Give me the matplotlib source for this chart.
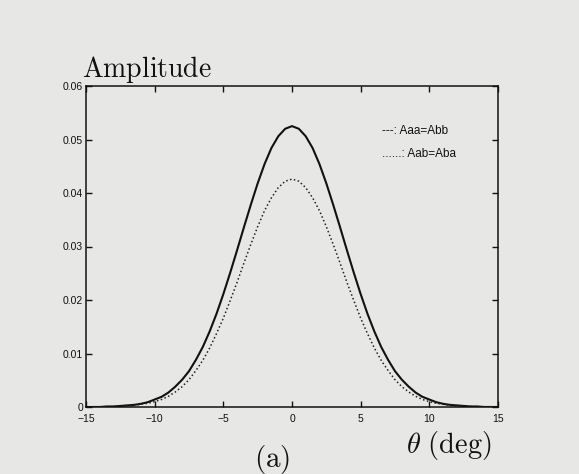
import numpy as np
import matplotlib
matplotlib.use('Agg')
import matplotlib.pyplot as plt

# values (half degree steps, -15 .. 15)
theta = np.arange(-15, 15.5, 0.5)
half_aa = [0.0525, 0.0520, 0.0506, 0.0484, 0.0454, 0.0418, 0.0378, 0.0336,
           0.0293, 0.0251, 0.0211, 0.0174, 0.0141, 0.0112, 0.0088, 0.0067,
           0.0051, 0.0038, 0.0027, 0.0019, 0.0014, 0.0009, 0.0006, 0.0004,
           0.0003, 0.0002, 0.0001, 0.0001, 0.0000, 0.0000, 0.0000]
half_ab = [0.0426, 0.0422, 0.0410, 0.0391, 0.0367, 0.0337, 0.0304, 0.0269,
           0.0233, 0.0199, 0.0166, 0.0137, 0.0110, 0.0087, 0.0068, 0.0051,
           0.0038, 0.0028, 0.0020, 0.0014, 0.0010, 0.0007, 0.0005, 0.0003,
           0.0002, 0.0001, 0.0001, 0.0000, 0.0000, 0.0000, 0.0000]
# curves are symmetric about 0 in the figure
amp_aa = half_aa[:0:-1] + half_aa
amp_ab = half_ab[:0:-1] + half_ab
x_ticks = [-15, -10, -5, 0, 5, 10, 15]
y_ticks = [0, 0.01, 0.02, 0.03, 0.04, 0.05, 0.06]
legend_lines = ['---: Aaa=Abb', '......: Aab=Aba']

plt.rcParams['mathtext.fontset'] = 'cm'
plt.rcParams['font.family'] = 'Liberation Sans'

bg = '#e7e7e5'
fig = plt.figure(figsize=(5.79, 4.74), dpi=100, facecolor=bg)
ax = fig.add_axes([86 / 579, 1 - 407 / 474, 412 / 579, 321 / 474])
ax.set_facecolor(bg)

ax.plot(theta, amp_aa, color='#111111', lw=1.5, solid_joinstyle='round')
ax.plot(theta, amp_ab, color='#222222', lw=1.1, linestyle=(0, (1, 1.6)))

ax.set_xlim(-15, 15)
ax.set_ylim(0, 0.06)
ax.set_xticks(x_ticks)
ax.set_yticks(y_ticks)
ax.set_xticklabels([str(t).replace('-', '\u2212') for t in x_ticks])
ax.set_yticklabels(['0'] + ['%.2f' % v for v in y_ticks[1:]])
ax.tick_params(direction='in', top=True, right=True, length=4, width=1,
               labelsize=7.5, colors='#111111', pad=2)
ax.tick_params(axis='x', pad=5)
for s in ax.spines.values():
    s.set_linewidth(1.1)
    s.set_color('#111111')

ax.text(0.718, 0.86, legend_lines[0], transform=ax.transAxes,
        fontsize=8.5, color='#111111', va='center')
ax.text(0.718, 0.788, legend_lines[1], transform=ax.transAxes,
        fontsize=8.5, color='#111111', va='center')

fig.text(82 / 579, 1 - 77 / 474, r'$\mathrm{Amplitude}$', fontsize=20,
         color='#111111', va='baseline', ha='left')
fig.text(449 / 579, 1 - 446 / 474, r'$\theta\ \mathrm{(deg)}$', fontsize=20.5,
         color='#111111', va='center', ha='center')
fig.text(272 / 579, 1 - 459 / 474, r'$\mathrm{(a)}$', fontsize=21,
         color='#111111', va='center', ha='center')

fig.savefig('out.png', dpi=100, facecolor=bg)
